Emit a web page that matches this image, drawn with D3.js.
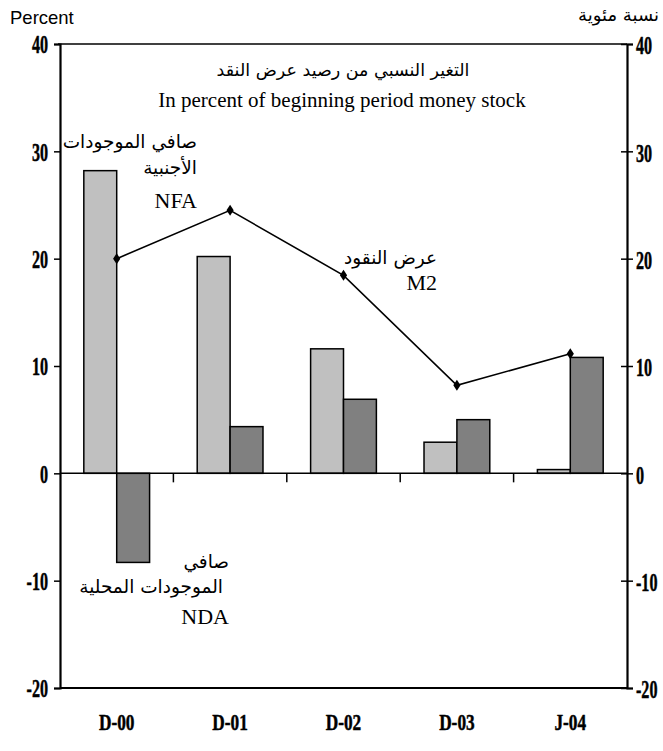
<!DOCTYPE html>
<html><head><meta charset="utf-8">
<script src="https://cdn.jsdelivr.net/npm/d3@7/dist/d3.min.js"></script>
<style>body{margin:0;background:#fff}svg{display:block}</style>
</head><body>
<svg id="c" width="663" height="751"></svg>
<script>
const categories = ["D-00","D-01","D-02","D-03","J-04"];
const nfa = [28.2, 20.2, 11.6, 2.9, 0.35];
const nda = [-8.3, 4.35, 6.9, 5.0, 10.8];
const m2  = [20.0, 24.5, 18.45, 8.2, 11.15];
const yTicks = [40,30,20,10,0,-10,-20];
const yTickLabels = ["40","30","20","10","0","-10","-20"];

const svg = d3.select("#c");
const L = 60, R = 627, T = 44, B = 688;
const x = d3.scaleBand().domain(categories).range([L,R]).padding(0);
const y = d3.scaleLinear().domain([-20,40]).range([B,T]);
const bw = x.bandwidth()*0.29;
const cx = c => x(c) + x.bandwidth()/2;

const numFont = "'Liberation Serif','Times New Roman',serif";
const arFont = "'DejaVu Sans',sans-serif";

// bars
const g = svg.append("g");
g.selectAll(".nfa").data(categories).join("rect")
  .attr("x", c => cx(c)-bw).attr("width", bw)
  .attr("y", (c,i) => y(Math.max(0,nfa[i])))
  .attr("height", (c,i) => Math.abs(y(nfa[i])-y(0)))
  .attr("fill","#c0c0c0").attr("stroke","#000").attr("stroke-width",1.5);
g.selectAll(".nda").data(categories).join("rect")
  .attr("x", c => cx(c)).attr("width", bw)
  .attr("y", (c,i) => y(Math.max(0,nda[i])))
  .attr("height", (c,i) => Math.abs(y(nda[i])-y(0)))
  .attr("fill","#808080").attr("stroke","#000").attr("stroke-width",1.5);

// zero line + ticks at band boundaries
svg.append("line").attr("x1",L).attr("x2",R).attr("y1",y(0)).attr("y2",y(0))
  .attr("stroke","#000").attr("stroke-width",1.5);
categories.slice(1).forEach(c => {
  svg.append("line").attr("x1",x(c)).attr("x2",x(c)).attr("y1",y(0)).attr("y2",y(0)+9)
    .attr("stroke","#000").attr("stroke-width",1.5);
});

// M2 line
const line = d3.line().x((d,i)=>cx(categories[i])).y(d=>y(d));
svg.append("path").datum(m2).attr("d",line).attr("fill","none")
  .attr("stroke","#000").attr("stroke-width",1.6);
svg.selectAll(".mk").data(m2).join("path")
  .attr("transform",(d,i)=>`translate(${cx(categories[i])},${y(d)})`)
  .attr("d","M0,-5.5L3.6,0L0,5.5L-3.6,0Z").attr("fill","#000");

// frame
svg.append("line").attr("x1",L-2).attr("x2",R).attr("y1",T).attr("y2",T).attr("stroke","#000").attr("stroke-width",1.5);
svg.append("line").attr("x1",L).attr("x2",R).attr("y1",B).attr("y2",B).attr("stroke","#000").attr("stroke-width",2);

// left axis
const la = svg.append("g").attr("transform",`translate(${L},0)`)
  .call(d3.axisLeft(y).tickValues(yTicks).tickSize(6).tickFormat(""));
la.select(".domain").attr("stroke-width",2.2);
la.selectAll(".tick line").attr("stroke-width",1.5);
// right axis
const ra = svg.append("g").attr("transform",`translate(${R},0)`)
  .call(d3.axisRight(y).tickValues(yTicks).tickSize(6).tickFormat(""));
ra.select(".domain").attr("stroke-width",2.2);
ra.selectAll(".tick line").attr("x1",-6).attr("stroke-width",1.5);

function numText(xp, yp, txt, anchor, size, sx){
  svg.append("text").attr("transform",`translate(${xp},${yp}) scale(${sx},1)`)
    .attr("text-anchor",anchor).attr("font-family",numFont).attr("font-weight","bold")
    .attr("font-size",size).attr("dominant-baseline","central")
    .attr("stroke","#000").attr("stroke-width",0.5).text(txt);
}
yTicks.forEach((v,i)=>{
  numText(48, y(v)+1, yTickLabels[i], "end", 26, 0.62);
  numText(636, y(v)+2, yTickLabels[i], "start", 26, 0.62);
});
categories.forEach(c => numText(cx(c), 722, c, "middle", 24, 0.72));

// header texts
svg.append("text").attr("x",10).attr("y",24).attr("font-family","'Liberation Sans',Arial,sans-serif")
  .attr("font-size",18.5).text("Percent");
svg.append("text").attr("x",659).attr("y",21).attr("text-anchor","end").attr("font-family",arFont)
  .attr("font-size",18).text("نسبة مئوية");

svg.append("text").attr("x",343).attr("y",76).attr("text-anchor","middle").attr("font-family",arFont)
  .attr("font-size",17.5).text("التغير النسبي من رصيد عرض النقد");
svg.append("text").attr("x",342).attr("y",107).attr("text-anchor","middle").attr("font-family",numFont)
  .attr("font-size",21).text("In percent of beginning period money stock");

function lab(xp, yp, txt, ar, size){
  svg.append("text").attr("x",xp).attr("y",yp).attr("text-anchor","end")
    .attr("font-family", ar?arFont:numFont).attr("font-size",size).text(txt);
}
lab(197,148,"صافي الموجودات",true,18.5);
lab(197,174,"الأجنبية",true,18.5);
lab(197,208,"NFA",false,22);
lab(437,264,"عرض النقود",true,18.5);
lab(437,290,"M2",false,22);
lab(229,568,"صافي",true,18.5);
lab(223,593,"الموجودات المحلية",true,18.5);
lab(229,624,"NDA",false,22);
</script>
</body></html>
